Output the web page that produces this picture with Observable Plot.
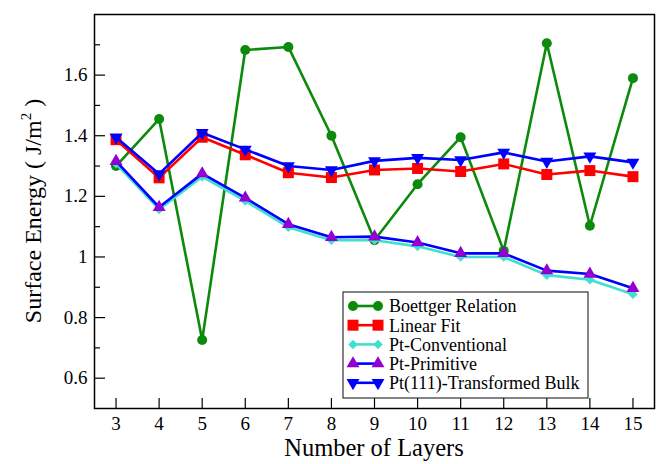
<!DOCTYPE html>
<html>
<head>
<meta charset="utf-8">
<script src="https://cdn.jsdelivr.net/npm/d3@7"></script>
<script src="https://cdn.jsdelivr.net/npm/@observablehq/plot@0.6"></script>
<style>
  html, body { margin: 0; padding: 0; background: #fff; }
  #chart { width: 656px; height: 464px; }
</style>
</head>
<body>
<div id="chart"></div>
<script>
// ---- data ----
const layers = [3, 4, 5, 6, 7, 8, 9, 10, 11, 12, 13, 14, 15];
const boettger     = [1.300, 1.455, 0.726, 1.683, 1.693, 1.400, 1.055, 1.240, 1.395, 1.020, 1.705, 1.103, 1.590];
const linearFit    = [1.387, 1.261, 1.395, 1.337, 1.278, 1.262, 1.287, 1.292, 1.282, 1.307, 1.272, 1.285, 1.265];
const ptConv       = [1.308, 1.157, 1.265, 1.185, 1.098, 1.055, 1.055, 1.035, 1.000, 1.000, 0.940, 0.925, 0.877];
const ptPrim       = [1.316, 1.164, 1.275, 1.195, 1.108, 1.065, 1.067, 1.048, 1.012, 1.012, 0.955, 0.944, 0.897];
const ptTransBulk  = [1.395, 1.274, 1.410, 1.355, 1.300, 1.287, 1.317, 1.327, 1.320, 1.345, 1.315, 1.332, 1.312];
const seriesNames  = ["Boettger Relation", "Linear Fit", "Pt-Conventional", "Pt-Primitive", "Pt(111)-Transformed Bulk"];
const xTicks = [3, 4, 5, 6, 7, 8, 9, 10, 11, 12, 13, 14, 15];
const yTicks = [0.6, 0.8, 1, 1.2, 1.4, 1.6];
const yMinorTicks = [0.7, 0.9, 1.1, 1.3, 1.5, 1.7];

// ---- symbols ----
const sqrt3 = Math.sqrt(3);
const triangleDown = {
  draw(context, size) {
    const y = -Math.sqrt(size / (sqrt3 * 3));
    context.moveTo(0, -y * 2);
    context.lineTo(-sqrt3 * y, y);
    context.lineTo(sqrt3 * y, y);
    context.closePath();
  }
};

const styles = [
  {line: "#0b8a0b", fill: "#0b8a0b", symbol: d3.symbolCircle, r: 5},
  {line: "#ff0000", fill: "#ff0000", symbol: d3.symbolSquare, r: 6.2},
  {line: "#40e0d0", fill: "#40e0d0", symbol: d3.symbolDiamond2, r: 4.3},
  {line: "#0000ff", fill: "#9400d3", symbol: d3.symbolTriangle, r: 4.8},
  {line: "#0000ff", fill: "#0000ff", symbol: triangleDown, r: 4.8}
];
const allValues = [boettger, linearFit, ptConv, ptPrim, ptTransBulk];
const tables = allValues.map((vals, i) => layers.map((x, j) => ({x, y: vals[j], series: seriesNames[i]})));

const seriesMarks = tables.flatMap((t, i) => [
  Plot.line(t, {x: "x", y: "y", stroke: styles[i].line, strokeWidth: 2.6}),
  Plot.dot(t, {x: "x", y: "y", fill: styles[i].fill, stroke: "none", symbol: styles[i].symbol, r: styles[i].r})
]);

const font = "\"Liberation Serif\", Tinos, \"Times New Roman\", \"Nimbus Roman\", FreeSerif, \"Noto Serif\", \"DejaVu Serif\", serif";

const plot = Plot.plot({
  width: 656,
  height: 464,
  marginLeft: 94,
  marginRight: 2,
  marginTop: 14,
  marginBottom: 56,
  style: {fontFamily: font, fontSize: "19px", color: "#000", background: "#fff"},
  x: {domain: [2.5, 15.5]},
  y: {domain: [0.5, 1.8]},
  marks: [
    Plot.axisX({ticks: xTicks, tickSize: -10, tickPadding: 18, tickFormat: d => String(d), label: null, stroke: "#000", strokeWidth: 1.2}),
    Plot.axisY({ticks: yTicks, tickSize: -11, tickPadding: 18, tickFormat: d => String(d), label: null, stroke: "#000", strokeWidth: 1.2}),
    Plot.axisY({ticks: yMinorTicks, tickSize: -6, tickFormat: () => "", label: null, stroke: "#000", strokeWidth: 1.2}),
    ...seriesMarks,
    Plot.frame({stroke: "#000", strokeWidth: 1.5})
  ]
});

document.getElementById("chart").appendChild(plot);

// ---- axis titles ----
const svg = d3.select(plot);
const xs = plot.scale("x"), ys = plot.scale("y");
const [x0, x1] = xs.range, [y0, y1] = ys.range;

svg.append("text")
  .attr("x", (x0 + x1) / 2).attr("y", 456)
  .attr("text-anchor", "middle")
  .attr("font-family", font).attr("font-size", 24.5).attr("fill", "#000")
  .text("Number of Layers");

const yl = svg.append("text")
  .attr("transform", `translate(41,${(y0 + y1) / 2}) rotate(-90)`)
  .attr("text-anchor", "middle")
  .attr("font-family", font).attr("font-size", 24).attr("fill", "#000");
yl.append("tspan").text("Surface Energy ( J/m");
yl.append("tspan").attr("dy", -10).attr("font-size", 15).text("2");
yl.append("tspan").attr("dy", 10).text("\u00a0)");

// ---- legend ----
const lg = svg.append("g").attr("font-family", font).attr("font-size", 18).attr("text-anchor", "start");
const lx = 343, ly = 292, lw = 245, lh = 106;
lg.append("rect").attr("x", lx).attr("y", ly).attr("width", lw).attr("height", lh)
  .attr("fill", "#fff").attr("stroke", "#333").attr("stroke-width", 1.2);
seriesNames.forEach((name, i) => {
  const cy = ly + 14 + i * 19.2;
  const s = styles[i];
  lg.append("line").attr("x1", 353).attr("x2", 378).attr("y1", cy).attr("y2", cy)
    .attr("stroke", s.line).attr("stroke-width", 2.6);
  [353, 378].forEach(cx => {
    lg.append("path")
      .attr("transform", `translate(${cx},${cy})`)
      .attr("d", d3.symbol(s.symbol, Math.PI * s.r * s.r)())
      .attr("fill", s.fill);
  });
  lg.append("text").attr("x", 389).attr("y", cy).attr("dy", "0.35em")
    .attr("text-anchor", "start").attr("fill", "#000").text(name);
});
</script>
</body>
</html>
